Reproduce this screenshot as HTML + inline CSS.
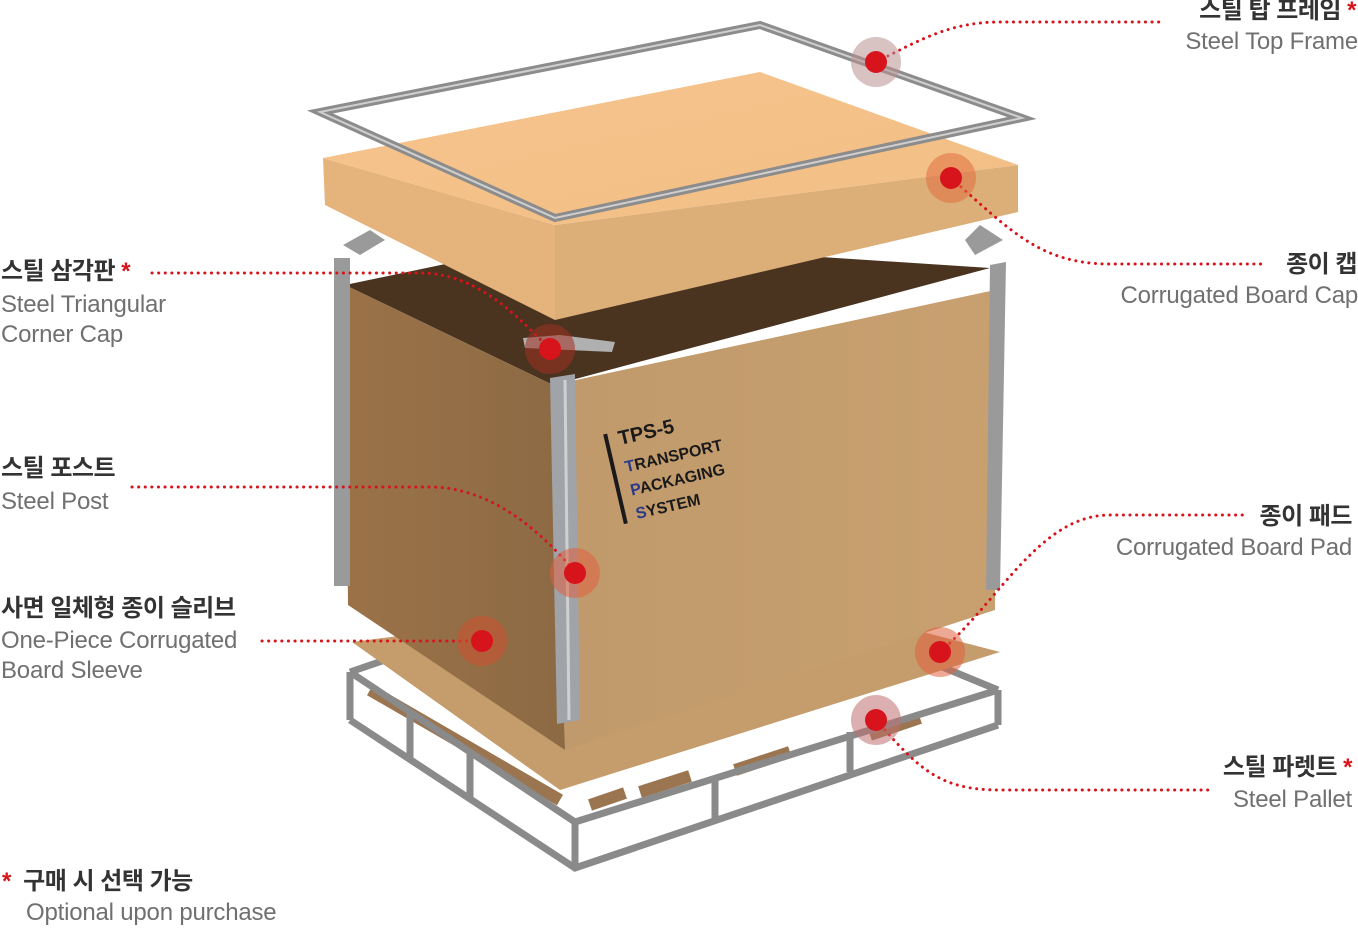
<!DOCTYPE html>
<html><head><meta charset="utf-8"><style>
html,body{margin:0;padding:0;background:#fff;}
body{width:1358px;height:928px;position:relative;overflow:hidden;font-family:"Liberation Sans","Noto Sans CJK KR",sans-serif;}
.k{position:absolute;font-weight:bold;font-size:24px;color:#333;white-space:nowrap;line-height:26px;letter-spacing:-0.5px;}
.e{position:absolute;font-size:24px;color:#707070;white-space:nowrap;line-height:30px;letter-spacing:-0.2px;}
.r{text-align:right;}
.s{color:#d7141c;}
svg{position:absolute;left:0;top:0;}
</style></head><body>
<svg width="1358" height="928" viewBox="0 0 1358 928">
<defs>
<linearGradient id="cap" x1="0" y1="0" x2="1" y2="1"><stop offset="0" stop-color="#f5c48c"/><stop offset="1" stop-color="#f2be86"/></linearGradient>
<linearGradient id="fr" x1="0" y1="0" x2="1" y2="0"><stop offset="0" stop-color="#c09a6c"/><stop offset="1" stop-color="#c8a070"/></linearGradient>
<linearGradient id="lf" x1="0" y1="0" x2="1" y2="0"><stop offset="0" stop-color="#9b7248"/><stop offset="1" stop-color="#8c6a44"/></linearGradient>
</defs>
<!-- pallet slats -->
<g stroke="#9a7550" stroke-width="12">
<line x1="590" y1="805" x2="625" y2="793"/><line x1="640" y1="792" x2="690" y2="776"/><line x1="735" y1="770" x2="790" y2="752"/><line x1="870" y1="735" x2="920" y2="718"/><line x1="370" y1="690" x2="560" y2="800"/>
</g>
<g fill="none" stroke="#8a8a8a" stroke-width="7">
<polyline points="350,672 575,822 998,690"/>
<polyline points="350,720 575,868 998,725"/>
<line x1="350" y1="672" x2="350" y2="720"/><line x1="575" y1="822" x2="575" y2="868"/><line x1="998" y1="690" x2="998" y2="725"/>
<line x1="410" y1="712" x2="410" y2="760"/><line x1="470" y1="752" x2="470" y2="800"/><line x1="715" y1="776" x2="715" y2="818"/><line x1="850" y1="732" x2="850" y2="772"/>
<line x1="350" y1="672" x2="560" y2="600"/><line x1="998" y1="690" x2="780" y2="600"/>
</g>
<!-- pad -->
<polygon points="352,642 560,790 1000,652 800,600 560,615" fill="#c59c6c"/>
<!-- box interior -->
<polygon points="345,285 560,240 990,268 553,385" fill="#4a3420"/>
<polygon points="345,285 553,385 565,750 348,605" fill="url(#lf)"/>
<polygon points="553,385 995,290 995,610 565,750" fill="url(#fr)"/>
<!-- posts -->
<rect x="334" y="258" width="16" height="328" fill="#9a9a9a"/>
<polygon points="550,378 575,374 580,720 557,724" fill="#a0a3a8"/>
<line x1="565" y1="380" x2="569" y2="720" stroke="#d0d0d0" stroke-width="3"/>
<polygon points="990,265 1006,262 1000,590 986,590" fill="#9a9a9a"/>
<!-- triangular caps -->
<polygon points="343,245 370,230 385,240 360,255" fill="#9a9a9a"/>
<polygon points="965,240 980,225 1003,240 975,255" fill="#9a9a9a"/>
<polygon points="523,338 560,335 615,342 612,352 525,348" fill="#b0b0b0"/>
<!-- cap -->
<polygon points="323,158 555,225 555,320 325,205" fill="#e5b47c"/>
<polygon points="555,225 1018,165 1018,212 555,320" fill="#dcae78"/>
<polygon points="323,158 760,72 1018,165 555,225" fill="url(#cap)"/>
<!-- top frame -->
<polygon points="320,112 760,25 1022,118 555,218" fill="none" stroke="#8c8c8c" stroke-width="8"/>
<polygon points="320,112 760,25 1022,118 555,218" fill="none" stroke="#cfcfcf" stroke-width="2"/>
<g transform="translate(620,445) rotate(-13)" font-family="Liberation Sans,sans-serif" font-weight="bold" fill="#1a1a1a">
<rect x="-14" y="-14" width="4" height="92" fill="#1a1a1a"/>
<text x="0" y="0" font-size="20">TPS-5</text>
<text x="0" y="28" font-size="16"><tspan fill="#2a3a8a">T</tspan>RANSPORT</text>
<text x="0" y="52" font-size="16"><tspan fill="#2a3a8a">P</tspan>ACKAGING</text>
<text x="0" y="76" font-size="16"><tspan fill="#2a3a8a">S</tspan>YSTEM</text>
</g>
<g fill="none" stroke="#d7141c" stroke-width="3" stroke-dasharray="0.1 6.5" stroke-linecap="round">
<path d="M876,62 C920,40 950,22 1000,22 L1160,22"/>
<path d="M951,178 C1010,230 1040,264 1110,264 L1265,264"/>
<path d="M152,273 L420,273 C480,273 520,320 550,349"/>
<path d="M132,487 L430,487 C490,487 540,530 575,572"/>
<path d="M262,641 L482,641"/>
<path d="M940,652 C1000,600 1040,515 1110,515 L1245,515"/>
<path d="M876,720 C920,770 940,790 1000,790 L1210,790"/>
</g>
<g>
<circle cx="876" cy="62" r="25" fill="#b89090" opacity="0.55"/><circle cx="876" cy="62" r="11" fill="#d7141c"/>
<circle cx="951" cy="178" r="25" fill="#e07040" opacity="0.55"/><circle cx="951" cy="178" r="11" fill="#d7141c"/>
<circle cx="550" cy="349" r="25" fill="#a03020" opacity="0.55"/><circle cx="550" cy="349" r="11" fill="#d7141c"/>
<circle cx="575" cy="573" r="25" fill="#e06040" opacity="0.55"/><circle cx="575" cy="573" r="11" fill="#d7141c"/>
<circle cx="482" cy="641" r="25" fill="#d05030" opacity="0.55"/><circle cx="482" cy="641" r="11" fill="#d7141c"/>
<circle cx="940" cy="652" r="25" fill="#e06040" opacity="0.55"/><circle cx="940" cy="652" r="11" fill="#d7141c"/>
<circle cx="876" cy="720" r="25" fill="#c07070" opacity="0.55"/><circle cx="876" cy="720" r="11" fill="#d7141c"/>
</g>
</svg>

<div class="k r" style="right:2px;top:-2px">스틸 탑 프레임 <span class="s">*</span></div>
<div class="e r" style="right:0;top:27px">Steel Top Frame</div>
<div class="k r" style="right:1px;top:252px">종이 캡</div>
<div class="e r" style="right:0;top:281px">Corrugated Board Cap</div>
<div class="k r" style="right:6px;top:504px">종이 패드</div>
<div class="e r" style="right:6px;top:533px">Corrugated Board Pad</div>
<div class="k r" style="right:6px;top:755px">스틸 파렛트 <span class="s">*</span></div>
<div class="e r" style="right:6px;top:785px">Steel Pallet</div>

<div class="k" style="left:1px;top:259px">스틸 삼각판 <span class="s">*</span></div>
<div class="e" style="left:1px;top:290px">Steel Triangular</div>
<div class="e" style="left:1px;top:320px">Corner Cap</div>
<div class="k" style="left:1px;top:456px">스틸 포스트</div>
<div class="e" style="left:1px;top:487px">Steel Post</div>
<div class="k" style="left:1px;top:596px">사면 일체형 종이 슬리브</div>
<div class="e" style="left:1px;top:626px">One-Piece Corrugated</div>
<div class="e" style="left:1px;top:656px">Board Sleeve</div>
<div class="k" style="left:2px;top:869px"><span class="s">*</span>&nbsp; 구매 시 선택 가능</div>
<div class="e" style="left:26px;top:898px">Optional upon purchase</div>
</body></html>
